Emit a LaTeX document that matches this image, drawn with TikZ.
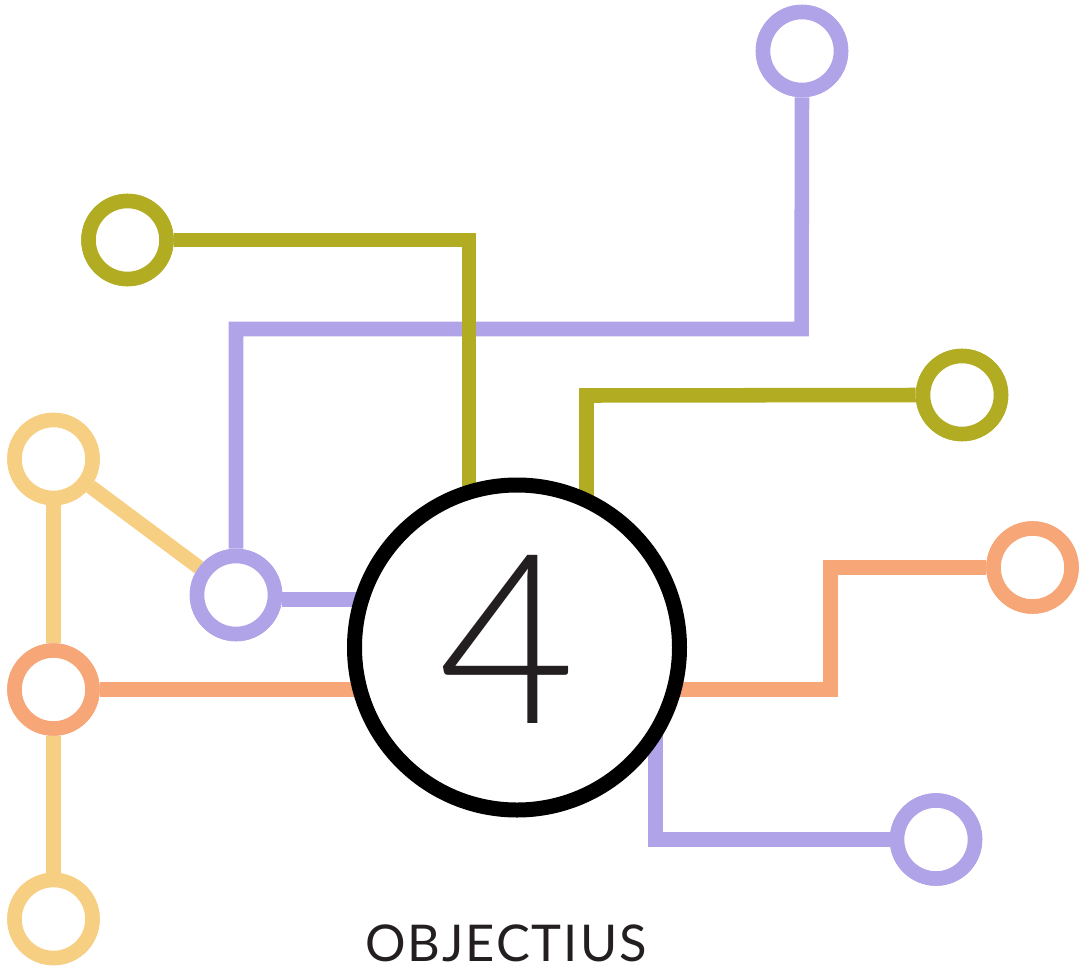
\documentclass[tikz,border=0pt]{standalone}
\usepackage{fontspec}
\setmainfont{Lato}
\IfFontExistsTF{Lato Light}
  {\newfontfamily\numfont{Lato Light}}
  {\IfFontExistsTF{Lato-Light.ttf}
     {\newfontfamily\numfont{Lato-Light.ttf}}
     {\newfontfamily\numfont{Lato}}}
\newfontfamily\titlefont[LetterSpace=4]{Lato}
\definecolor{lilac}{HTML}{B1A3E8}
\definecolor{olive}{HTML}{B2AC22}
\definecolor{sand}{HTML}{F7CF82}
\definecolor{peach}{HTML}{F7A678}
\definecolor{ink}{HTML}{231F20}
\tikzset{
  wire/.style={line width=10.9pt},
  dot/.style={circle, draw, fill=white, line width=10.9pt, inner sep=0pt, minimum size=58.5pt},
  hub/.style={circle, draw=black, fill=white, line width=11.25pt, inner sep=0pt, minimum size=243.75pt},
}
\begin{document}
\begin{tikzpicture}[x=0.75pt, y=-0.75pt]
\useasboundingbox (0,0) rectangle (1089,971);

% terminals
\node[dot, draw=lilac] (l1) at (802,51) {};
\node[dot, draw=olive] (o1) at (127.5,240) {};
\node[dot, draw=olive] (o2) at (962,395) {};
\node[dot, draw=sand]  (s1) at (53.5,459) {};
\node[dot, draw=lilac] (l2) at (236,595) {};
\node[dot, draw=peach] (p1) at (53.5,689.5) {};
\node[dot, draw=peach] (p2) at (1032.5,567.5) {};
\node[dot, draw=lilac] (l3) at (936,839.5) {};
\node[dot, draw=sand]  (s2) at (53.5,919) {};

% anchor points hidden under the central disc
\coordinate (hO1) at (469,560);
\coordinate (hO2) at (586.5,560);
\coordinate (hL2) at (420,599.5);
\coordinate (hP1) at (420,689.5);
\coordinate (hP2) at (620,689.5);
\coordinate (hL3) at (655.5,700);

% connectors (the long lilac run passes under the olive one)
\draw[wire, lilac] (l1.south) -- (801.5,329) -- (236,329) -- (l2.north);
\draw[wire, olive] (o1.east) -- (469,240) -- (hO1);
\draw[wire, olive] (o2.west) -- (586.5,395.5) -- (hO2);
\draw[wire, lilac] (l2.east |- hL2) -- (hL2);
\draw[wire, sand] (s1) -- (l2);
\draw[wire, sand] (s1) -- (p1);
\draw[wire, sand] (p1) -- (s2);
\draw[wire, peach] (p1.east) -- (hP1);
\draw[wire, peach] (hP2) -- (830.5,689.5) -- (830.5,567.5) -- (p2.west);
\draw[wire, lilac] (hL3) -- (655.5,839.5) -- (l3.west);

% redraw terminals over the wires
\foreach \n/\c/\x/\y in {l1/lilac/802/51, o1/olive/127.5/240, o2/olive/962/395, s1/sand/53.5/459, l2/lilac/236/595, p1/peach/53.5/689.5, p2/peach/1032.5/567.5, l3/lilac/936/839.5, s2/sand/53.5/919}
  \node[dot, draw=\c] at (\x,\y) {};

% central disc
\node[hub] (hub) at (517,647.5) {};
\node[anchor=base, inner sep=0pt, text=ink, font=\numfont\fontsize{178}{178}\selectfont] (num) at (507,723) {4};

\node[anchor=base, inner sep=0pt, text=ink, font=\titlefont\fontsize{38}{44}\selectfont] (title) at (506,961) {OBJECTIUS};
\end{tikzpicture}
\end{document}
